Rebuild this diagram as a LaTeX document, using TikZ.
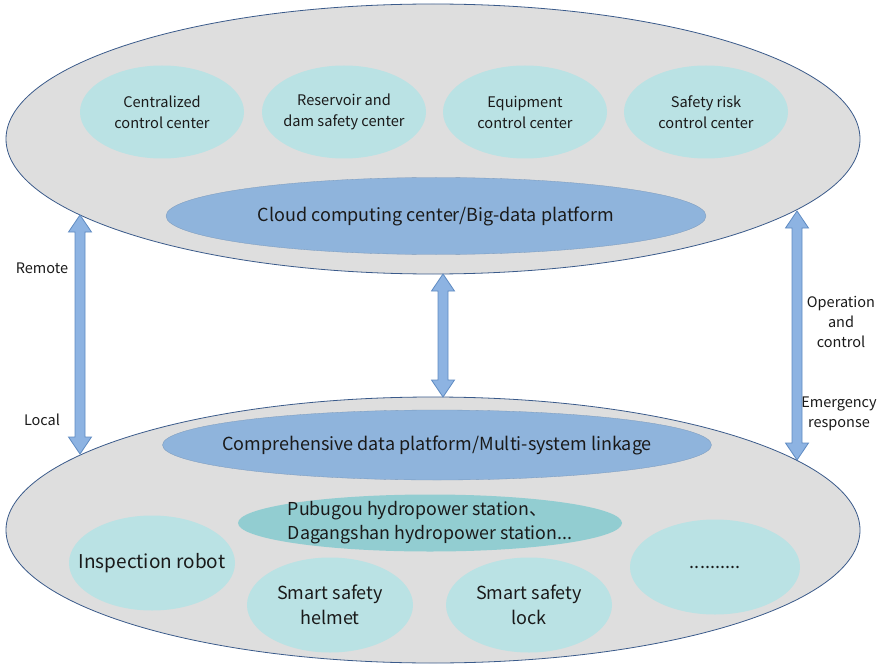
\documentclass[tikz,border=0pt]{standalone}
\usepackage{fontspec}
\setmainfont{Noto Sans CJK SC}
\usetikzlibrary{calc,shapes.geometric}
\definecolor{outerfill}{HTML}{DEDEDE}
\definecolor{outerline}{HTML}{3A5A8A}
\definecolor{subfill}{HTML}{BAE2E4}
\definecolor{hubfill}{HTML}{8FB4DC}
\definecolor{sitefill}{HTML}{92CDD1}
\definecolor{arrfill}{HTML}{8DB3E2}
\definecolor{arrline}{HTML}{5F8BC2}
\definecolor{txt}{HTML}{1A1A1A}
\tikzset{
  blob/.style={ellipse, inner sep=0pt},
  outer/.style={blob, draw=outerline, line width=0.8pt, fill=outerfill},
  subtop/.style={blob, fill=subfill, minimum width=164pt, minimum height=93pt},
  subbot/.style={blob, fill=subfill, minimum width=166pt, minimum height=95pt},
  hub/.style={blob, fill=hubfill, draw=hubfill!85!black, line width=0.3pt},
  site/.style={blob, fill=sitefill},
  ttop/.style={align=center, inner sep=0pt, font=\fontsize{14.6}{21}\selectfont, text=txt},
  tbot/.style={align=center, inner sep=0pt, font=\fontsize{18}{24.5}\selectfont, text=txt},
  thub/.style={inner sep=0pt, font=\fontsize{18}{22}\selectfont, text=txt},
  tsite/.style={align=left, inner sep=0pt, font=\fontsize{17.8}{24}\selectfont, text=txt},
  lbl/.style={align=center, font=\fontsize{14.5}{20}\selectfont, text=txt, inner sep=0pt},
  blockarr/.style={fill=arrfill, draw=arrline, line width=0.8pt, line join=miter}
}
\newcommand{\blockarrow}[2]{%
  \path[blockarr] let \p1=(#1), \p2=(#2) in
    (\x1,\y1) -- (\x1+11.5pt,\y1-17pt) -- (\x1+5pt,\y1-17pt) -- (\x1+5pt,\y2+17pt)
    -- (\x1+11.5pt,\y2+17pt) -- (\x1,\y2) -- (\x1-11.5pt,\y2+17pt) -- (\x1-5pt,\y2+17pt)
    -- (\x1-5pt,\y1-17pt) -- (\x1-11.5pt,\y1-17pt) -- cycle;}
\begin{document}
\begin{tikzpicture}[x=1pt,y=-1pt]
\useasboundingbox (0,0) rectangle (882,668);
% outer layers
\node[outer, minimum width=854pt, minimum height=270pt] (top) at (433,139) {};
\node[outer, minimum width=854pt, minimum height=266pt] (bot) at (433,530) {};
% top layer
\node[subtop] (cc) at (162,112) {};
\node[ttop] (cct) at (cc) {Centralized\\control center};
\node[subtop] (rd) at (344,112) {};
\node[ttop] (rdt) at (rd) {Reservoir and\\dam safety center};
\node[subtop] (ec) at (525,112) {};
\node[ttop] (ect) at (ec) {Equipment\\control center};
\node[subtop] (sr) at (706,112) {};
\node[ttop] (srt) at (sr) {Safety risk\\control center};
\node[hub, minimum width=540pt, minimum height=77pt] (cloud) at (436,216) {};
\node[thub] (cloudt) at (cloud) {Cloud computing center/Big-data platform};
% bottom layer
\node[hub, minimum width=549pt, minimum height=70pt] (comp) at (437,445) {};
\node[thub] (compt) at (comp) {Comprehensive data platform/Multi-system linkage};
\node[site, minimum width=384pt, minimum height=57pt] (site) at (430,523) {};
\node[tsite] (sitet) at (site) {Pubugou hydropower station、\\Dagangshan hydropower station...};
\node[subbot] (robot) at (152,563) {};
\node[tbot, font=\fontsize{19}{24}\selectfont] (robott) at (robot) {Inspection robot};
\node[subbot] (helmet) at (330,605) {};
\node[tbot] (helmett) at (helmet) {Smart safety\\helmet};
\node[subbot] (lock) at (529,605) {};
\node[tbot] (lockt) at (lock) {Smart safety\\lock};
\node[subbot, minimum width=170pt] (more) at (715,567) {};
\node[tbot] (moret) at (more) {..........};
% arrow end points
\coordinate (lt) at (80,215);
\coordinate (lb) at (80,454);
\coordinate (mt) at (443,274);
\coordinate (mb) at (443,397);
\coordinate (rt) at (797,211);
\coordinate (rb) at (797,460);
\blockarrow{lt}{lb}
\blockarrow{mt}{mb}
\blockarrow{rt}{rb}
% labels
\node[lbl] (remote) at (42,268) {Remote};
\node[lbl] (local) at (42,420) {Local};
\node[lbl] (op) at (841,322) {Operation\\and\\control};
\node[lbl] (em) at (839,414) {Emergency\\response};
\end{tikzpicture}
\end{document}
